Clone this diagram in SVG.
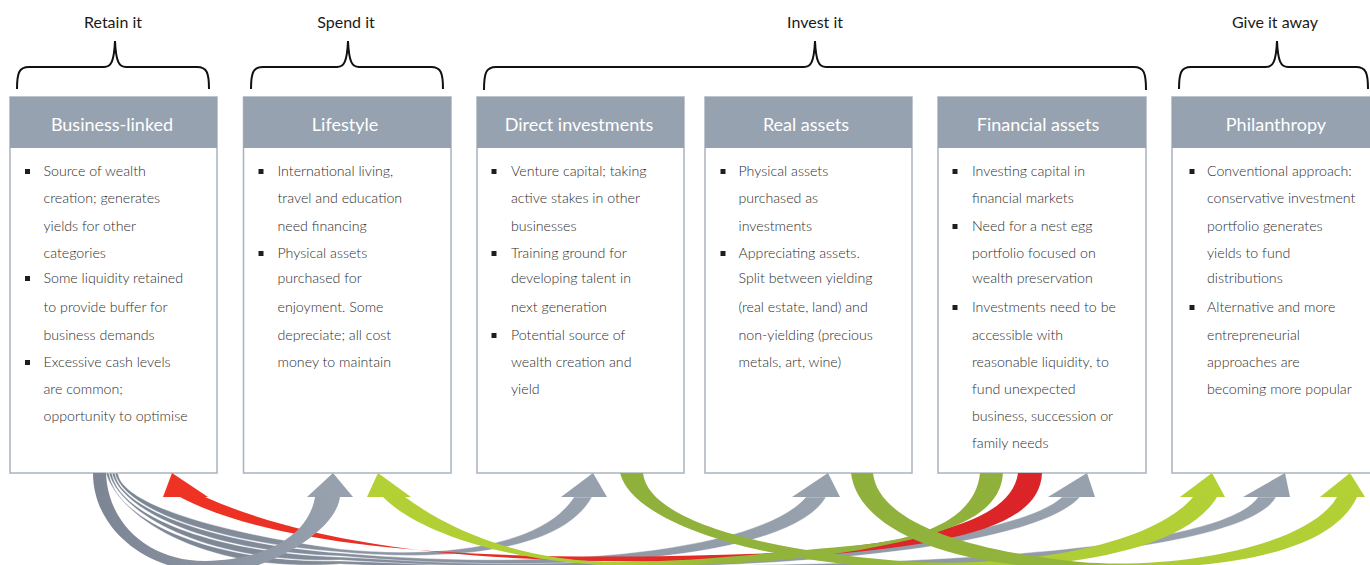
<svg xmlns="http://www.w3.org/2000/svg" width="1370" height="565" viewBox="0 0 1370 565">
  <style>
    .brace { fill: none; stroke: #111; stroke-width: 2; }
    .group-label { font-family: Lato, "Open Sans", sans-serif; font-size: 16px; fill: #1a1a1a; text-anchor: middle; }
    .box { fill: #fff; stroke: #a9b3bf; stroke-width: 1.5; }
    .hdr { fill: #97a2b0; }
    .hdr-text { font-family: Lato, "Open Sans", sans-serif; font-size: 18px; fill: #fff; text-anchor: middle; }
    .body { font-family: Lato, "Open Sans", sans-serif; font-size: 14.2px; font-weight: 300; fill: #2e2e2e; }
    .bullet { fill: #1e1e1e; }
    .sep { stroke: #ffffff; stroke-width: 0.6; stroke-opacity: 0.7; }
  </style>
  <defs>
    <linearGradient id="gGray" x1="0" y1="0" x2="1" y2="0">
      <stop offset="0" stop-color="#7c8594"/>
      <stop offset="0.35" stop-color="#858e9c"/>
      <stop offset="1" stop-color="#98a2af"/>
    </linearGradient>
    <linearGradient id="gGreenR" x1="0" y1="0" x2="1" y2="0">
      <stop offset="0" stop-color="#8fb13c"/>
      <stop offset="0.45" stop-color="#94b53b"/>
      <stop offset="0.6" stop-color="#adcb36"/>
      <stop offset="1" stop-color="#b3d035"/>
    </linearGradient>
    <linearGradient id="gGreenL" x1="1" y1="0" x2="0" y2="0">
      <stop offset="0" stop-color="#8fb13c"/>
      <stop offset="0.45" stop-color="#94b53b"/>
      <stop offset="0.6" stop-color="#adcb36"/>
      <stop offset="1" stop-color="#b3d035"/>
    </linearGradient>
    <linearGradient id="gRed" x1="1" y1="0" x2="0" y2="0">
      <stop offset="0" stop-color="#da2428"/>
      <stop offset="1" stop-color="#ee3223"/>
    </linearGradient>
  </defs>

  <!-- category braces and labels -->
  <g id="groups">
    <text class="group-label" x="113" y="28">Retain it</text>
    <path class="brace" d="M17,89 C17,73 19,67 29,67 L104,67 C111,67 114,62 115,41 C116,62 119,67 126,67 L197,67 C207,67 209,73 209,89"/>
    <text class="group-label" x="346" y="28">Spend it</text>
    <path class="brace" d="M251,89 C251,73 253,67 263,67 L337,67 C344,67 347,62 348,41 C349,62 352,67 359,67 L431,67 C441,67 443,73 443,89"/>
    <text class="group-label" x="815" y="28">Invest it</text>
    <path class="brace" d="M484,90 C484,73 486,67 496,67 L804,67 C811,67 814,62 815,41 C816,62 819,67 826,67 L1134,67 C1144,67 1146,73 1146,90"/>
    <text class="group-label" x="1275" y="28">Give it away</text>
    <path class="brace" d="M1179,89 C1179,73 1181,67 1191,67 L1266,67 C1273,67 1276,62 1277,41 C1278,62 1281,67 1288,67 L1356,67 C1366,67 1368,73 1368,89"/>
  </g>

  <!-- Business-linked -->
  <g id="business-linked">
    <rect class="box" x="10" y="97" width="207" height="376"/>
    <rect class="hdr" x="10" y="97" width="207" height="51"/>
    <text class="hdr-text" x="112" y="131">Business-linked</text>
    <rect class="bullet" x="25" y="169" width="5" height="5"/>
    <rect class="bullet" x="25" y="276" width="5" height="5"/>
    <rect class="bullet" x="25" y="360" width="5" height="5"/>
    <text class="body">
      <tspan x="43.5" y="176">Source of wealth</tspan>
      <tspan x="43.5" y="203">creation; generates</tspan>
      <tspan x="43.5" y="231">yields for other</tspan>
      <tspan x="43.5" y="258">categories</tspan>
      <tspan x="43.5" y="283">Some liquidity retained</tspan>
      <tspan x="43.5" y="312">to provide buffer for</tspan>
      <tspan x="43.5" y="340">business demands</tspan>
      <tspan x="43.5" y="367">Excessive cash levels</tspan>
      <tspan x="43.5" y="394">are common;</tspan>
      <tspan x="43.5" y="421">opportunity to optimise</tspan>
    </text>
  </g>

  <!-- Lifestyle -->
  <g id="lifestyle">
    <rect class="box" x="243.5" y="97" width="207.5" height="376"/>
    <rect class="hdr" x="243.5" y="97" width="207.5" height="51"/>
    <text class="hdr-text" x="345" y="131">Lifestyle</text>
    <rect class="bullet" x="258.5" y="169" width="5" height="5"/>
    <rect class="bullet" x="258.5" y="251" width="5" height="5"/>
    <text class="body">
      <tspan x="277.5" y="176">International living,</tspan>
      <tspan x="277.5" y="203">travel and education</tspan>
      <tspan x="277.5" y="231">need financing</tspan>
      <tspan x="277.5" y="258">Physical assets</tspan>
      <tspan x="277.5" y="283">purchased for</tspan>
      <tspan x="277.5" y="312">enjoyment. Some</tspan>
      <tspan x="277.5" y="340">depreciate; all cost</tspan>
      <tspan x="277.5" y="367">money to maintain</tspan>
    </text>
  </g>

  <!-- Direct investments -->
  <g id="direct-investments">
    <rect class="box" x="477" y="97" width="207" height="376"/>
    <rect class="hdr" x="477" y="97" width="207" height="51"/>
    <text class="hdr-text" x="579" y="131">Direct investments</text>
    <rect class="bullet" x="491.5" y="169" width="5" height="5"/>
    <rect class="bullet" x="491.5" y="251" width="5" height="5"/>
    <rect class="bullet" x="491.5" y="333" width="5" height="5"/>
    <text class="body">
      <tspan x="511" y="176">Venture capital; taking</tspan>
      <tspan x="511" y="203">active stakes in other</tspan>
      <tspan x="511" y="231">businesses</tspan>
      <tspan x="511" y="258">Training ground for</tspan>
      <tspan x="511" y="283">developing talent in</tspan>
      <tspan x="511" y="312">next generation</tspan>
      <tspan x="511" y="340">Potential source of</tspan>
      <tspan x="511" y="367">wealth creation and</tspan>
      <tspan x="511" y="394">yield</tspan>
    </text>
  </g>

  <!-- Real assets -->
  <g id="real-assets">
    <rect class="box" x="705" y="97" width="207" height="376"/>
    <rect class="hdr" x="705" y="97" width="207" height="51"/>
    <text class="hdr-text" x="806" y="131">Real assets</text>
    <rect class="bullet" x="720.5" y="169" width="5" height="5"/>
    <rect class="bullet" x="720.5" y="251" width="5" height="5"/>
    <text class="body">
      <tspan x="738.5" y="176">Physical assets</tspan>
      <tspan x="738.5" y="203">purchased as</tspan>
      <tspan x="738.5" y="231">investments</tspan>
      <tspan x="738.5" y="258">Appreciating assets.</tspan>
      <tspan x="738.5" y="283">Split between yielding</tspan>
      <tspan x="738.5" y="312">(real estate, land) and</tspan>
      <tspan x="738.5" y="340">non-yielding (precious</tspan>
      <tspan x="738.5" y="367">metals, art, wine)</tspan>
    </text>
  </g>

  <!-- Financial assets -->
  <g id="financial-assets">
    <rect class="box" x="938" y="97" width="208" height="376"/>
    <rect class="hdr" x="938" y="97" width="208" height="51"/>
    <text class="hdr-text" x="1038" y="131">Financial assets</text>
    <rect class="bullet" x="952.5" y="169" width="5" height="5"/>
    <rect class="bullet" x="952.5" y="224" width="5" height="5"/>
    <rect class="bullet" x="952.5" y="305" width="5" height="5"/>
    <text class="body">
      <tspan x="972" y="176">Investing capital in</tspan>
      <tspan x="972" y="203">financial markets</tspan>
      <tspan x="972" y="231">Need for a nest egg</tspan>
      <tspan x="972" y="258">portfolio focused on</tspan>
      <tspan x="972" y="283">wealth preservation</tspan>
      <tspan x="972" y="312">Investments need to be</tspan>
      <tspan x="972" y="340">accessible with</tspan>
      <tspan x="972" y="367">reasonable liquidity, to</tspan>
      <tspan x="972" y="394">fund unexpected</tspan>
      <tspan x="972" y="421">business, succession or</tspan>
      <tspan x="972" y="448">family needs</tspan>
    </text>
  </g>

  <!-- Philanthropy -->
  <g id="philanthropy">
    <rect class="box" x="1172" y="97" width="210" height="376"/>
    <rect class="hdr" x="1172" y="97" width="210" height="51"/>
    <text class="hdr-text" x="1276" y="131">Philanthropy</text>
    <rect class="bullet" x="1189.5" y="169" width="5" height="5"/>
    <rect class="bullet" x="1189.5" y="305" width="5" height="5"/>
    <text class="body">
      <tspan x="1207" y="176">Conventional approach:</tspan>
      <tspan x="1207" y="203">conservative investment</tspan>
      <tspan x="1207" y="231">portfolio generates</tspan>
      <tspan x="1207" y="258">yields to fund</tspan>
      <tspan x="1207" y="283">distributions</tspan>
      <tspan x="1207" y="312">Alternative and more</tspan>
      <tspan x="1207" y="340">entrepreneurial</tspan>
      <tspan x="1207" y="367">approaches are</tspan>
      <tspan x="1207" y="394">becoming more popular</tspan>
    </text>
  </g>

  <!-- flows between categories -->
  <g id="connectors">
    <!-- business-linked to the four far categories (grey bands) -->
    <path class="sep" fill="url(#gGray)" d="M109,473 C114,515 200,563 340,561 C800,575 1215,560 1258,497 L1276,497 C1240,565 800,585 340,564 C200,574 118,515 106,473 Z"/>
    <path class="sep" fill="url(#gGray)" d="M112,473 C116,510 200,552 340,557 C700,575 1010,545 1062,497 L1080,497 C1030,555 700,582 340,560 C200,564 118,510 109,473 Z"/>
    <path class="sep" fill="url(#gGray)" d="M115,473 C118,505 200,542 340,553 C560,572 760,550 806,497 L826,497 C790,560 560,575 340,556 C200,552 120,507 112,473 Z"/>
    <path class="sep" fill="url(#gGray)" d="M118,473 C120,500 200,530 340,549 C430,558 540,550 574,497 L592,497 C560,555 440,561 340,552 C200,541 122,505 115,473 Z"/>

    <!-- financial assets back to business-linked -->
    <path fill="url(#gRed)" d="M1042,473 C1040,525 960,545 800,557 C600,566 360,566 205,497 L180,497 C300,560 560,562 800,552 C930,540 1012,520 1018,473 Z"/>

    <!-- financial assets to lifestyle -->
    <path fill="url(#gGreenL)" d="M980,473 C976,515 930,538 860,545 C760,554 690,562 620,562 C520,562 450,530 405,497 L383,497 C420,535 520,565 630,566 C700,566 780,563 860,550 C940,535 1000,520 1003,473 Z"/>

    <!-- direct investments to philanthropy -->
    <path fill="url(#gGreenR)" d="M643,473 C648,520 760,550 900,561 C1010,569 1150,548 1193,497 L1217,497 C1185,550 1070,570 930,569 C790,568 635,530 620,473 Z"/>

    <!-- real assets to philanthropy -->
    <path fill="url(#gGreenR)" d="M873,473 C878,520 960,550 1080,562 C1180,570 1310,545 1337,497 L1357,497 C1330,555 1220,571 1080,569 C950,567 858,530 851,473 Z"/>

    <!-- business-linked to lifestyle (deep band) -->
    <path fill="url(#gGray)" d="M93,473 C93,528 145,573 218,573 C260,573 335,535 340,497 L315,497 C308,538 262,560 205,561 C150,561 108,525 106,473 Z"/>

    <!-- arrowheads -->
    <polygon fill="#97a1ae" points="307,497 333,473 353,497"/>
    <polygon fill="#97a1ae" points="561,497 593,473 607,497"/>
    <polygon fill="#97a1ae" points="792,497 828,473 840,497"/>
    <polygon fill="#97a1ae" points="1048,497 1087,473 1095,497"/>
    <polygon fill="#97a1ae" points="1243,497 1285,473 1290,497"/>
    <polygon fill="#ee3223" points="163,497 172,473 208,497"/>
    <polygon fill="#b3d035" points="367,497 378,473 411,497"/>
    <polygon fill="#b3d035" points="1180,497 1212,473 1225,497"/>
    <polygon fill="#b3d035" points="1320,497 1350,473 1365,497"/>
  </g>
</svg>
